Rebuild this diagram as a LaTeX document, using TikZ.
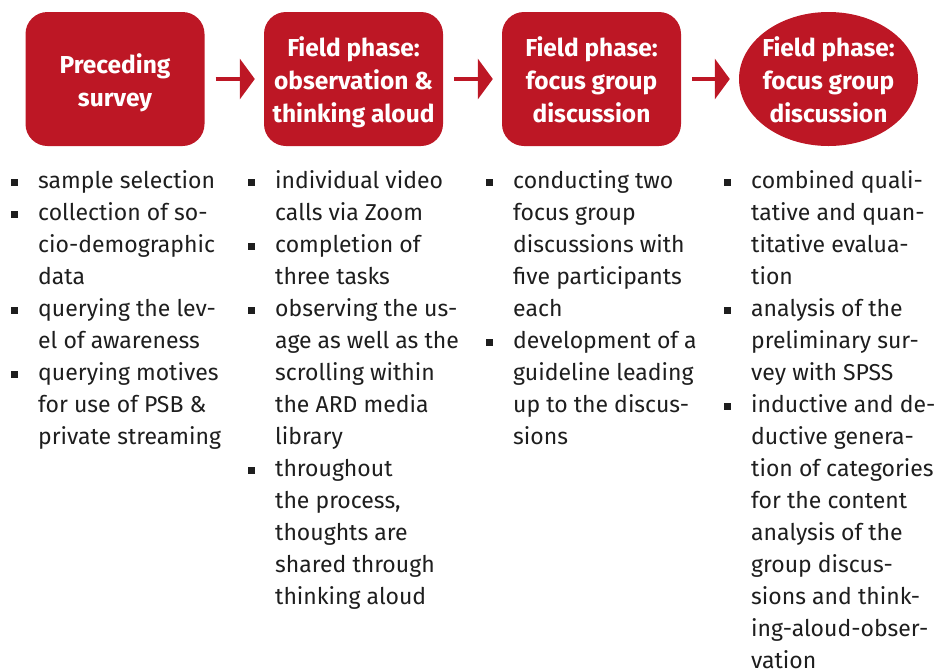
\documentclass[tikz,border=0pt]{standalone}
\usepackage{fontspec}
\setmainfont{Fira Sans}
\usetikzlibrary{arrows.meta,shapes.geometric}
\definecolor{brandred}{RGB}{189,23,37}
\definecolor{ink}{RGB}{30,30,30}
% square bullet hung to the left of an item's first line
\newcommand{\sqbullet}{\llap{\rule[2.5pt]{7pt}{7pt}\hspace{20.5pt}}}
\begin{document}
\begin{tikzpicture}[x=1pt,y=-1pt,
  phase/.style={fill=brandred, draw=none, minimum width=179pt, minimum height=134pt, inner sep=0pt},
  phasebox/.style={phase, rectangle, rounded corners=22pt},
  phaseoval/.style={phase, ellipse},
  % multi-line nodes: the base anchor sits on the last line
  title/.style={anchor=base, text=white, font=\bfseries\fontsize{24.5pt}{33pt}\selectfont, align=center, inner sep=0pt},
  flow/.style={draw=brandred, line width=4pt, -{Triangle[length=15pt,width=40pt]}, shorten <=11pt, shorten >=9pt},
  item/.style={anchor=base west, align=left, inner sep=0pt, text=ink, font=\fontsize{23pt}{32pt}\selectfont},
]
\useasboundingbox (0,0) rectangle (939,670);

% phase shapes
\node[phasebox]  (b1) at (115,79) {};
\node[phasebox]  (b2) at (353.5,79) {};
\node[phasebox]  (b3) at (591.5,79) {};
\node[phaseoval] (b4) at (828.5,79) {};

% phase titles
\node[title] (t1) at (115,106)   {Preceding\\survey};
\node[title] (t2) at (353.5,122) {Field phase:\\observation \&\\thinking aloud};
\node[title] (t3) at (591.5,122) {Field phase:\\focus group\\discussion};
\node[title] (t4) at (828.5,122) {Field phase:\\focus group\\discussion};

% flow arrows
\draw[flow] (b1) -- (b2);
\draw[flow] (b2) -- (b3);
\draw[flow] (b3) -- (b4);

% column 1 (lines every 32pt from 188.5)
\node[item] (c1a) at (38,188.5) {\sqbullet sample selection};
\node[item] (c1b) at (38,284.5) {\sqbullet collection of so-\\cio-demographic\\data};
\node[item] (c1c) at (38,348.5) {\sqbullet querying the lev-\\el of awareness};
\node[item] (c1d) at (38,444.5) {\sqbullet querying motives\\for use of PSB \&\\private streaming};

% column 2
\node[item] (c2a) at (275,220.5) {\sqbullet individual video\\calls via Zoom};
\node[item] (c2b) at (275,284.5) {\sqbullet completion of\\three tasks};
\node[item] (c2c) at (275,444.5) {\sqbullet observing the us-\\age as well as the\\scrolling within\\the ARD media\\library};
\node[item] (c2d) at (275,604.5) {\sqbullet throughout\\the process,\\thoughts are\\shared through\\thinking aloud};

% column 3
\node[item] (c3a) at (513,316.5) {\sqbullet conducting two\\focus group\\discussions with\\five participants\\each};
\node[item] (c3b) at (513,444.5) {\sqbullet development of a\\guideline leading\\up to the discus-\\sions};

% column 4
\node[item] (c4a) at (751,284.5) {\sqbullet combined quali-\\tative and quan-\\titative evalua-\\tion};
\node[item] (c4b) at (751,380.5) {\sqbullet analysis of the\\preliminary sur-\\vey with SPSS};
\node[item] (c4c) at (751,668.5) {\sqbullet inductive and de-\\ductive genera-\\tion of categories\\for the content\\analysis of the\\group discus-\\sions and think-\\ing-aloud-obser-\\vation};
\end{tikzpicture}
\end{document}
